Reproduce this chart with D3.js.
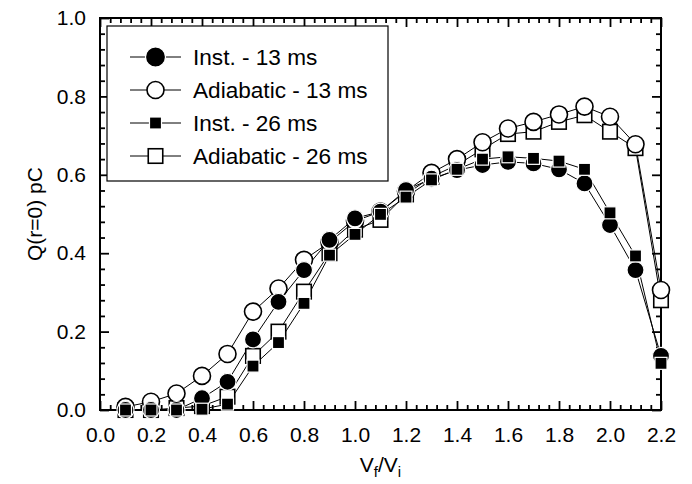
<!DOCTYPE html>
<html>
<head>
<meta charset="utf-8">
<script src="https://cdn.jsdelivr.net/npm/d3@7/dist/d3.min.js"></script>
<style>
    body { margin: 0; background: #fff; }
    svg text { font-family: "Liberation Sans", Arial, sans-serif; fill: #000; }
</style>
</head>
<body>
<svg id="chart" width="692" height="484"></svg>
<script>
// V_f / V_i values
const ratios = [0.1, 0.2, 0.3, 0.4, 0.5, 0.6, 0.7, 0.8, 0.9, 1.0, 1.1,
                1.2, 1.3, 1.4, 1.5, 1.6, 1.7, 1.8, 1.9, 2.0, 2.1, 2.2];

// Q(r=0) in pC
const inst13 = [0.0, 0.0, 0.0, 0.03, 0.072, 0.18, 0.276, 0.357, 0.434, 0.489, 0.506,
                0.561, 0.59, 0.612, 0.625, 0.633, 0.629, 0.614, 0.578, 0.472, 0.357, 0.138];
const adiab13 = [0.008, 0.021, 0.042, 0.087, 0.143, 0.251, 0.31, 0.383, 0.428, 0.482, 0.506,
                 0.558, 0.605, 0.64, 0.683, 0.718, 0.735, 0.754, 0.774, 0.748, 0.678, 0.306];
const inst26 = [0.0, 0.0, 0.0, 0.002, 0.015, 0.112, 0.172, 0.272, 0.395, 0.448, 0.499,
                0.543, 0.587, 0.614, 0.64, 0.646, 0.642, 0.635, 0.614, 0.503, 0.393, 0.119];
const adiab26 = [0.0, 0.0, 0.005, 0.01, 0.034, 0.138, 0.2, 0.302, 0.4, 0.46, 0.485,
                 0.55, 0.595, 0.625, 0.665, 0.704, 0.71, 0.735, 0.752, 0.71, 0.668, 0.28];

const xTicks = [0.0, 0.2, 0.4, 0.6, 0.8, 1.0, 1.2, 1.4, 1.6, 1.8, 2.0, 2.2];
const yTicks = [0.0, 0.2, 0.4, 0.6, 0.8, 1.0];

// drawn in this order: later ones sit on top
const series = [
    { name: "Adiabatic - 26 ms", values: adiab26, shape: "square", filled: false },
    { name: "Adiabatic - 13 ms", values: adiab13, shape: "circle", filled: false },
    { name: "Inst. - 13 ms", values: inst13, shape: "circle", filled: true },
    { name: "Inst. - 26 ms", values: inst26, shape: "square", filled: true }
];
const legendOrder = ["Inst. - 13 ms", "Adiabatic - 13 ms", "Inst. - 26 ms", "Adiabatic - 26 ms"];

const plotLeft = 100, plotRight = 661, plotTop = 18, plotBottom = 410;
const svg = d3.select("#chart");

const x = d3.scaleLinear().domain([0, 2.2]).range([plotLeft, plotRight]);
const y = d3.scaleLinear().domain([0, 1.0]).range([plotBottom, plotTop]);

const xMinor = d3.range(0, 56).filter(i => i % 5 !== 0).map(i => i * 0.04);
const yMinor = d3.range(0, 26).filter(i => i % 5 !== 0).map(i => i * 0.04);

/** draws one inward-pointing axis; labels only when fmt is given */
function drawAxis(axisFn, scale, values, size, transform, fmt, padding) {
    const g = svg.append("g")
        .attr("transform", transform)
        .call(axisFn(scale)
            .tickValues(values)
            .tickSizeInner(-size)
            .tickSizeOuter(0)
            .tickPadding(padding || 0)
            .tickFormat(fmt || (() => "")));
    g.select(".domain").remove();
    g.selectAll(".tick line").attr("stroke", "#000").attr("stroke-width", 1.8);
    g.selectAll(".tick text").style("font-size", "21px").attr("fill", "#000");
    return g;
}

const fmt = d3.format(".1f");
drawAxis(d3.axisBottom, x, xTicks, 9, `translate(0,${plotBottom})`, fmt, 17);
drawAxis(d3.axisBottom, x, xMinor, 5, `translate(0,${plotBottom})`);
drawAxis(d3.axisTop, x, xTicks, 9, `translate(0,${plotTop})`);
drawAxis(d3.axisTop, x, xMinor, 5, `translate(0,${plotTop})`);
drawAxis(d3.axisLeft, y, yTicks, 9, `translate(${plotLeft},0)`, fmt, 14);
drawAxis(d3.axisLeft, y, yMinor, 5, `translate(${plotLeft},0)`);
drawAxis(d3.axisRight, y, yTicks, 9, `translate(${plotRight},0)`);
drawAxis(d3.axisRight, y, yMinor, 5, `translate(${plotRight},0)`);

svg.append("rect")
    .attr("x", plotLeft).attr("y", plotTop)
    .attr("width", plotRight - plotLeft).attr("height", plotBottom - plotTop)
    .attr("fill", "none").attr("stroke", "#000").attr("stroke-width", 2);

// axis titles
const xTitle = svg.append("text")
    .attr("x", (plotLeft + plotRight) / 2).attr("y", 472)
    .attr("text-anchor", "middle")
    .style("font-size", "21px");
xTitle.append("tspan").text("V");
xTitle.append("tspan").text("f").attr("dy", 5).style("font-size", "15px");
xTitle.append("tspan").text("/V").attr("dy", -5);
xTitle.append("tspan").text("i").attr("dy", 5).style("font-size", "15px");

svg.append("text")
    .attr("transform", `translate(42,${(plotTop + plotBottom) / 2}) rotate(-90)`)
    .attr("text-anchor", "middle")
    .style("font-size", "21px")
    .text("Q(r=0) pC");

// lines first, then the symbols over them
const line = d3.line()
    .x((d, i) => x(ratios[i]))
    .y(d => y(d));

series.forEach(s => {
    svg.append("path")
        .datum(s.values)
        .attr("d", line)
        .attr("fill", "none")
        .attr("stroke", "#000")
        .attr("stroke-width", 1);
});

function drawSymbol(g, s, cx, cy, big) {
    if (s.shape === "circle") {
        const r = s.filled && big ? 10 : 8.5;
        g.append("circle")
            .attr("cx", cx).attr("cy", cy).attr("r", r)
            .attr("fill", s.filled ? "#000" : "#fff")
            .attr("stroke", s.filled ? "#fff" : "#000")
            .attr("stroke-width", s.filled ? 1.2 : 1.6);
    } else {
        const side = s.filled ? 12 : 14.5;
        g.append("rect")
            .attr("x", cx - side / 2).attr("y", cy - side / 2)
            .attr("width", side).attr("height", side)
            .attr("fill", s.filled ? "#000" : "#fff")
            .attr("stroke", s.filled ? "#fff" : "#000")
            .attr("stroke-width", s.filled ? 1.2 : 1.6);
    }
}

series.forEach(s => {
    const g = svg.append("g");
    s.values.forEach((v, i) => drawSymbol(g, s, x(ratios[i]), y(v), false));
});

// legend
const legend = svg.append("g");
legend.append("rect")
    .attr("x", 107).attr("y", 26)
    .attr("width", 281).attr("height", 155)
    .attr("fill", "#fff").attr("stroke", "#000").attr("stroke-width", 1.2);

legendOrder.forEach((name, i) => {
    const s = series.find(d => d.name === name);
    const cy = 57 + i * 33;
    legend.append("line")
        .attr("x1", 130).attr("x2", 181)
        .attr("y1", cy).attr("y2", cy)
        .attr("stroke", "#000").attr("stroke-width", 1);
    drawSymbol(legend, s, 155.5, cy, true);
    legend.append("text")
        .attr("x", 193).attr("y", cy + 8)
        .style("font-size", "22.6px")
        .text(name);
});
</script>
</body>
</html>
